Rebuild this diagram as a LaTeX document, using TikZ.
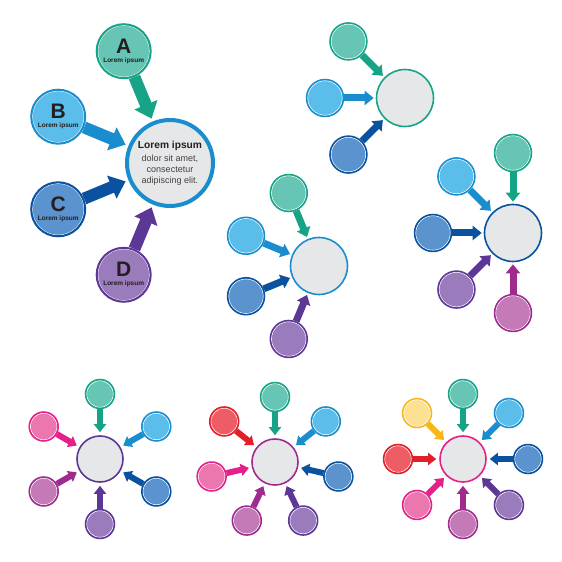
\documentclass[tikz,border=0pt]{standalone}
\usepackage{fontspec}
\setmainfont{Liberation Sans}
\usetikzlibrary{arrows.meta,calc}

\definecolor{tealF}{HTML}{66C5B5}
\definecolor{tealD}{HTML}{16A386}
\definecolor{skyF}{HTML}{5BBEEA}
\definecolor{skyD}{HTML}{1A8DCF}
\definecolor{blueF}{HTML}{5A93CE}
\definecolor{blueD}{HTML}{0A52A0}
\definecolor{violF}{HTML}{9A7BBB}
\definecolor{violD}{HTML}{5C3795}
\definecolor{mauveF}{HTML}{C47AB6}
\definecolor{mauveD}{HTML}{A02B8E}
\definecolor{pinkF}{HTML}{EC77AE}
\definecolor{pinkD}{HTML}{E4208A}
\definecolor{redF}{HTML}{EE5C66}
\definecolor{redD}{HTML}{E01F2A}
\definecolor{yelF}{HTML}{FDE193}
\definecolor{yelD}{HTML}{F8B61D}
\definecolor{hubgray}{HTML}{E6E7E8}
\definecolor{ink}{HTML}{231F20}

\tikzset{
  bub/.style={circle, inner sep=0pt, line width=1.5pt, draw=#1D, fill=#1F,
    text=ink, align=center,
    path picture={\draw[white, line width=0.6pt]
      let \p1=(path picture bounding box.east), \p2=(path picture bounding box.center)
      in (\p2) circle[radius=\x1-\x2-1.2pt];}},
  hub/.style={circle, inner sep=0pt, line width=1.6pt, draw=#1D, fill=hubgray,
    text=ink, align=center},
  feed/.style={draw=#1D},
  bigtip/.style={line width=12pt, -{Triangle[length=15pt,width=24pt]}, shorten >=3pt},
  midtip/.style={line width=7pt, -{Triangle[length=9pt,width=14pt]}, shorten >=2pt},
  smalltip/.style={line width=6pt, -{Triangle[length=8pt,width=12pt]}, shorten >=3pt},
  letter/.style={font=\fontsize{6.5}{8}\selectfont\bfseries},
}
\newcommand{\bigletter}[1]{{\fontsize{21}{21}\selectfont #1}}

\begin{document}
\begin{tikzpicture}[x=1pt,y=1pt]
  \useasboundingbox (0,0) rectangle (562,562);

  % A B C D with text
  \begin{scope}[shift={(170,399)}]
    \draw
      (0:0) node[hub=sky, line width=4pt, minimum size=86pt,
                 font=\fontsize{9}{11}\selectfont, text=ink!85] (m1)
        {{\fontsize{10.2}{12}\selectfont\bfseries\color{ink}Lorem ipsum}\\[1.5pt]
         dolor sit amet,\\consectetur\\adipiscing elit.}
      (112.5:121) node[bub=teal, line width=2pt, minimum size=54pt, letter] (a1)
        {\bigletter{A}\\[1pt]Lorem ipsum}
      (157.5:121) node[bub=sky, line width=2pt, minimum size=54pt, letter] (b1)
        {\bigletter{B}\\[1pt]Lorem ipsum}
      (202.5:121) node[bub=blue, line width=2pt, minimum size=54pt, letter] (c1)
        {\bigletter{C}\\[1pt]Lorem ipsum}
      (247.5:121) node[bub=viol, line width=2pt, minimum size=54pt, letter] (d1)
        {\bigletter{D}\\[1pt]Lorem ipsum};
    \begin{scope}[bigtip]
      \draw[feed=teal] (a1) to (m1);
      \draw[feed=sky] (b1) to (m1);
      \draw[feed=blue] (c1) to (m1);
      \draw[feed=viol] (d1) to (m1);
    \end{scope}
  \end{scope}

  % three inputs
  \begin{scope}[shift={(405,464)}, minimum size=37pt]
    \draw
      (0:0) node[hub=teal, minimum size=57pt] (m2){}
      (135:80) node[bub=teal] (a2){}
      (180:80) node[bub=sky] (b2){}
      (225:80) node[bub=blue] (c2){};
    \begin{scope}[midtip]
      \draw[feed=teal] (a2) to (m2);
      \draw[feed=sky] (b2) to (m2);
      \draw[feed=blue] (c2) to (m2);
    \end{scope}
  \end{scope}

  % four inputs
  \begin{scope}[shift={(319,296)}, minimum size=37pt]
    \draw
      (0:0) node[hub=sky, minimum size=57pt] (m3){}
      (112.5:79) node[bub=teal] (a3){}
      (157.5:79) node[bub=sky] (b3){}
      (202.5:79) node[bub=blue] (c3){}
      (247.5:79) node[bub=viol] (d3){};
    \begin{scope}[midtip]
      \draw[feed=teal] (a3) to (m3);
      \draw[feed=sky] (b3) to (m3);
      \draw[feed=blue] (c3) to (m3);
      \draw[feed=viol] (d3) to (m3);
    \end{scope}
  \end{scope}

  % five inputs
  \begin{scope}[shift={(513,329)}, minimum size=37pt]
    \draw
      (0:0) node[hub=blue, minimum size=57pt] (m4){}
      (90:80) node[bub=teal] (a4){}
      (135:80) node[bub=sky] (b4){}
      (180:80) node[bub=blue] (c4){}
      (225:80) node[bub=viol] (d4){}
      (270:80) node[bub=mauve] (e4){};
    \begin{scope}[midtip]
      \draw[feed=teal] (a4) to (m4);
      \draw[feed=sky] (b4) to (m4);
      \draw[feed=blue] (c4) to (m4);
      \draw[feed=viol] (d4) to (m4);
      \draw[feed=mauve] (e4) to (m4);
    \end{scope}
  \end{scope}

  % six inputs
  \begin{scope}[shift={(100,103)}, minimum size=29pt]
    \draw
      (0:0) node[hub=viol, minimum size=46pt] (m5){}
      (90:65) node[bub=teal] (a5){}
      (30:65) node[bub=sky] (b5){}
      (-30:65) node[bub=blue] (c5){}
      (-90:65) node[bub=viol] (d5){}
      (-150:65) node[bub=mauve] (e5){}
      (150:65) node[bub=pink] (f5){};
    \begin{scope}[smalltip]
      \draw[feed=teal] (a5) to (m5);
      \draw[feed=sky] (b5) to (m5);
      \draw[feed=blue] (c5) to (m5);
      \draw[feed=viol] (d5) to (m5);
      \draw[feed=mauve] (e5) to (m5);
      \draw[feed=pink] (f5) to (m5);
    \end{scope}
  \end{scope}

  % seven inputs
  \begin{scope}[shift={(275,100)}, minimum size=29pt]
    \draw
      (0:0) node[hub=mauve, minimum size=46pt] (m6){}
      (90:65) node[bub=teal] (a6){}
      (38.6:65) node[bub=sky] (b6){}
      (-12.9:65) node[bub=blue] (c6){}
      (-64.3:65) node[bub=viol] (d6){}
      (-115.7:65) node[bub=mauve] (e6){}
      (-167.1:65) node[bub=pink] (f6){}
      (141.4:65) node[bub=red] (g6){};
    \begin{scope}[smalltip]
      \draw[feed=teal] (a6) to (m6);
      \draw[feed=sky] (b6) to (m6);
      \draw[feed=blue] (c6) to (m6);
      \draw[feed=viol] (d6) to (m6);
      \draw[feed=mauve] (e6) to (m6);
      \draw[feed=pink] (f6) to (m6);
      \draw[feed=red] (g6) to (m6);
    \end{scope}
  \end{scope}

  % eight inputs
  \begin{scope}[shift={(463,103)}, minimum size=29pt]
    \draw
      (0:0) node[hub=pink, minimum size=46pt] (m7){}
      (90:65) node[bub=teal] (a7){}
      (45:65) node[bub=sky] (b7){}
      (0:65) node[bub=blue] (c7){}
      (-45:65) node[bub=viol] (d7){}
      (-90:65) node[bub=mauve] (e7){}
      (-135:65) node[bub=pink] (f7){}
      (180:65) node[bub=red] (g7){}
      (135:65) node[bub=yel] (h7){};
    \begin{scope}[smalltip]
      \draw[feed=teal] (a7) to (m7);
      \draw[feed=sky] (b7) to (m7);
      \draw[feed=blue] (c7) to (m7);
      \draw[feed=viol] (d7) to (m7);
      \draw[feed=mauve] (e7) to (m7);
      \draw[feed=pink] (f7) to (m7);
      \draw[feed=red] (g7) to (m7);
      \draw[feed=yel] (h7) to (m7);
    \end{scope}
  \end{scope}
\end{tikzpicture}
\end{document}
